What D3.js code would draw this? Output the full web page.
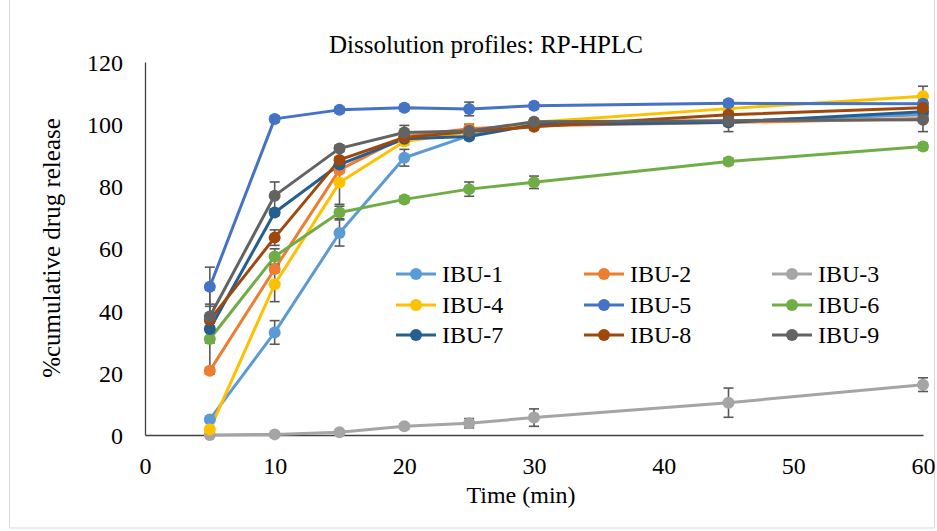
<!DOCTYPE html>
<html><head><meta charset="utf-8">
<script src="https://cdn.jsdelivr.net/npm/d3@7"></script>
<style>html,body{margin:0;padding:0;background:#fff;}svg{display:block;}
svg text{font-family:"Liberation Serif","Times New Roman","DejaVu Serif",serif;}</style>
</head><body>
<svg id="chart" width="937" height="531"></svg>
<script>
const times = [5, 10, 15, 20, 25, 30, 45, 60];
const seriesNames = ["IBU-1","IBU-2","IBU-3","IBU-4","IBU-5","IBU-6","IBU-7","IBU-8","IBU-9"];
const seriesColors = ["#5B9BD5","#ED7D31","#A5A5A5","#FFC000","#4472C4","#70AD47","#255E91","#9E480E","#636363"];
const ibu1 = [5.0, 33.0, 65.0, 89.2, 96.3, 100.3, 101.0, 103.0];
const ibu2 = [20.7, 53.4, 85.3, 96.0, 98.5, 99.5, 100.5, 101.8];
const ibu3 = [0.0, 0.2, 0.9, 2.8, 3.8, 5.6, 10.4, 16.2];
const ibu4 = [1.8, 48.5, 81.2, 94.4, 97.5, 100.6, 105.0, 109.0];
const ibu5 = [47.7, 101.7, 104.6, 105.3, 104.9, 105.9, 106.7, 106.6];
const ibu6 = [30.9, 57.4, 71.6, 75.8, 79.1, 81.3, 88.0, 92.8];
const ibu7 = [34.1, 71.6, 87.0, 95.3, 96.0, 99.8, 100.6, 104.0];
const ibu8 = [37.0, 63.5, 88.5, 95.7, 97.6, 99.2, 103.0, 105.3];
const ibu9 = [38.1, 77.0, 92.2, 97.3, 97.8, 100.8, 101.1, 101.4];
const err1 = [0.5, 3.8, 4.2, 2.7, 1.0, 1.0, 1.0, 1.0];
const err2 = [1.0, 1.0, 1.0, 1.0, 1.5, 1.0, 1.0, 1.0];
const err3 = [0.2, 0.2, 0.5, 0.8, 1.5, 2.8, 4.7, 2.2];
const err4 = [0.5, 5.6, 7.0, 1.0, 1.0, 1.0, 1.0, 3.2];
const err5 = [6.3, 1.0, 1.0, 1.0, 2.2, 1.0, 1.0, 1.0];
const err6 = [11.2, 2.5, 2.0, 1.0, 2.3, 2.0, 1.0, 1.0];
const err7 = [1.0, 1.0, 1.0, 1.0, 1.0, 1.0, 1.0, 1.0];
const err8 = [1.0, 2.5, 1.0, 1.0, 1.0, 1.0, 1.0, 1.0];
const err9 = [8.5, 4.4, 1.0, 2.3, 1.0, 1.0, 3.5, 3.8];
const xTicks = [0, 10, 20, 30, 40, 50, 60];
const yTicks = [0, 20, 40, 60, 80, 100, 120];

const values = [ibu1, ibu2, ibu3, ibu4, ibu5, ibu6, ibu7, ibu8, ibu9];
const errors = [err1, err2, err3, err4, err5, err6, err7, err8, err9];
const series = seriesNames.map((name, i) => ({
  name, color: seriesColors[i],
  points: times.map((t, j) => ({t, v: values[i][j], e: errors[i][j], color: seriesColors[i]}))
}));

const svg = d3.select("#chart");

// chart border
svg.append("rect").attr("x", 9.5).attr("y", -1).attr("width", 925).attr("height", 529)
  .attr("fill", "#fff").attr("stroke", "#d9d9d9").attr("stroke-width", 1);

const x = d3.scaleLinear().domain([0, 60]).range([145, 923]);
const y = d3.scaleLinear().domain([0, 120]).range([435, 62]);

const xAxis = svg.append("g").attr("transform", "translate(0,435)")
  .call(d3.axisBottom(x).tickValues(xTicks).tickSizeInner(0).tickSizeOuter(0).tickPadding(22));
const yAxis = svg.append("g").attr("transform", "translate(145,0)")
  .call(d3.axisLeft(y).tickValues(yTicks).tickSizeInner(0).tickSizeOuter(0).tickPadding(22));
[xAxis, yAxis].forEach(g => {
  g.select(".domain").attr("stroke", "#404040").attr("stroke-width", 1.3);
  g.selectAll("text").attr("font-family", null).attr("font-size", 24).attr("fill", "#000");
});
yAxis.selectAll("text").attr("dy", "0.35em");

// title and axis titles
svg.append("text").attr("x", 486).attr("y", 53).attr("text-anchor", "middle")
  .attr("font-size", 25).attr("fill", "#000").text("Dissolution profiles: RP-HPLC");
svg.append("text").attr("x", 521).attr("y", 503).attr("text-anchor", "middle")
  .attr("font-size", 24).attr("fill", "#000").text("Time (min)");
svg.append("text").attr("transform", "translate(60,248) rotate(-90)").attr("text-anchor", "middle")
  .attr("font-size", 25).attr("fill", "#000").text("%cumulative drug release");

const line = d3.line().x(d => x(d.t)).y(d => y(d.v));

// lines
svg.append("g").selectAll("path").data(series).join("path")
  .attr("d", d => line(d.points)).attr("fill", "none")
  .attr("stroke", d => d.color).attr("stroke-width", 3).attr("stroke-linejoin", "round");

// error bars
const eg = svg.append("g").attr("stroke", "#595959").attr("stroke-width", 1.6).attr("fill", "none");
series.forEach(s => {
  s.points.forEach(p => {
    const cx = x(p.t), y1 = y(p.v - p.e), y2 = y(p.v + p.e);
    eg.append("line").attr("x1", cx).attr("x2", cx).attr("y1", y1).attr("y2", y2);
    eg.append("line").attr("x1", cx - 5).attr("x2", cx + 5).attr("y1", y1).attr("y2", y1);
    eg.append("line").attr("x1", cx - 5).attr("x2", cx + 5).attr("y1", y2).attr("y2", y2);
  });
});

// markers
svg.append("g").selectAll("g").data(series).join("g")
  .selectAll("circle").data(d => d.points).join("circle")
  .attr("cx", d => x(d.t)).attr("cy", d => y(d.v)).attr("r", 6).attr("fill", d => d.color);

// legend
const legX = [396, 584, 772];
const legY = [274, 305, 335];
const lg = svg.append("g").selectAll("g").data(series).join("g")
  .attr("transform", (d, i) => `translate(${legX[i % 3]},${legY[Math.floor(i / 3)]})`);
lg.append("line").attr("x1", 0).attr("x2", 40).attr("y1", 0).attr("y2", 0)
  .attr("stroke", d => d.color).attr("stroke-width", 3);
lg.append("circle").attr("cx", 20).attr("cy", 0).attr("r", 6).attr("fill", d => d.color);
lg.append("text").attr("x", 46).attr("y", 8).attr("font-size", 24)
  .attr("fill", "#000").text(d => d.name);
</script>
</body></html>
